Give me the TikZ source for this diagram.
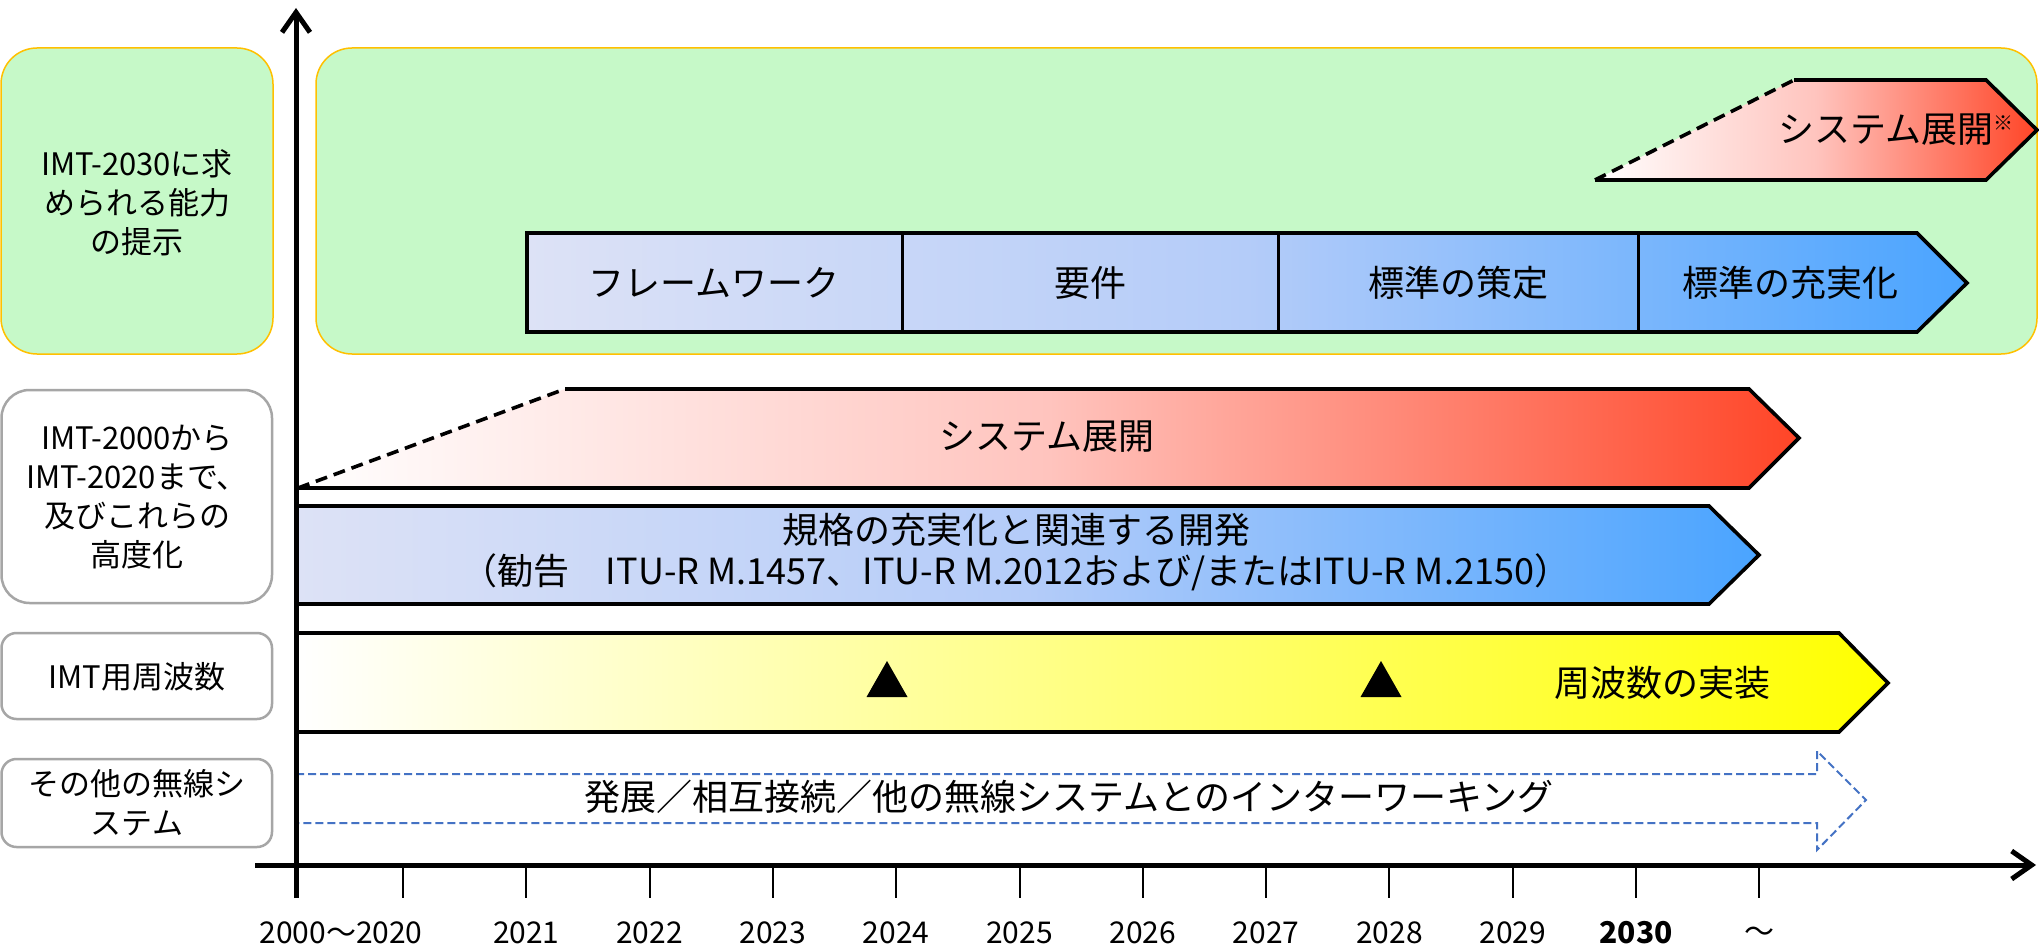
\documentclass[tikz,border=0pt]{standalone}
\usepackage{fontspec}
\setmainfont{Noto Sans CJK JP}
\usetikzlibrary{arrows.meta}
\definecolor{boxgreen}{HTML}{C6F9C8}
\definecolor{boxgold}{HTML}{FFC000}
\definecolor{labgray}{HTML}{A6A6A6}
\definecolor{redmid}{HTML}{FFC4BE}
\definecolor{redend}{HTML}{FF4527}
\definecolor{blustart}{HTML}{DDE2F6}
\definecolor{blumid}{HTML}{B4CCF9}
\definecolor{bluend}{HTML}{4AA4FF}
\definecolor{dashblue}{HTML}{4472C4}
\pgfdeclarehorizontalshading{redshade}{100bp}{color(0bp)=(white); color(25bp)=(white); color(50bp)=(redmid); color(75bp)=(redend); color(100bp)=(redend)}
\pgfdeclarehorizontalshading{blueshade}{100bp}{color(0bp)=(blustart); color(25bp)=(blustart); color(50bp)=(blumid); color(75bp)=(bluend); color(100bp)=(bluend)}
\tikzset{
  barline/.style={draw=black, line width=3.6pt, line join=miter},
  slantdash/.style={draw=black, line width=3.6pt, dash pattern=on 12pt off 7pt},
  lab/.style={font=\fontsize{31}{39}\selectfont, align=center, inner sep=0pt},
  bartext/.style={font=\fontsize{36}{41}\selectfont, align=center, inner sep=0pt},
  yeartext/.style={font=\fontsize{30}{36}\selectfont, inner sep=0pt},
  labbox/.style={draw=labgray, line width=2.5pt, fill=white},
  greenbox/.style={draw=boxgold, line width=1.5pt, fill=boxgreen},
  axisline/.style={line width=5pt, -{Straight Barb[length=20pt,width=28pt]}},
  tickline/.style={line width=2pt},
  redgrad/.style={shading=redshade},
  bluegrad/.style={shading=blueshade},
  yellowgrad/.style={left color=white, right color=yellow},
}
\begin{document}
\begin{tikzpicture}[x=1pt, y=-1pt]
\useasboundingbox (0,0) rectangle (2039,952);
\fill[white] (0,0) rectangle (2039,952);

% ---- left label boxes ----
\draw[greenbox, rounded corners=36pt] (1,48) rectangle (273,354);
\node[lab] (lab1) at (137,203) {IMT-2030に求\\められる能力\\の提示};
\draw[labbox, rounded corners=28pt] (1.5,390) rectangle (272,603);
\node[lab] (lab2) at (137,497) {IMT-2000から\\IMT-2020まで、\\及びこれらの\\高度化};
\draw[labbox, rounded corners=15pt] (1.5,633) rectangle (272,719);
\node[lab] (lab3) at (137,677) {IMT用周波数};
\draw[labbox, rounded corners=15pt] (1.5,759) rectangle (272,847);
\node[lab] (lab4) at (137,803) {その他の無線シ\\ステム};

% ---- IMT-2030 area ----
\draw[greenbox, rounded corners=36pt] (316,48) rectangle (2037,354);

% system deployment (top)
\shade[redgrad] (1595,180) -- (1794,80) -- (1986,80) -- (2037,130) -- (1986,180) -- cycle;
\draw[barline] (1794,80) -- (1986,80) -- (2037,130) -- (1986,180) -- (1595,180);
\draw[slantdash] (1595,180) -- (1794,80);
\node[bartext, anchor=east] (sys2) at (2014,130) {システム展開\raisebox{12pt}{\fontsize{20}{20}\selectfont ※}};

% framework chain
\shade[bluegrad] (527,233) -- (1917,233) -- (1967,283) -- (1917,332) -- (527,332) -- cycle;
\draw[barline] (527,233) -- (1917,233) -- (1967,283) -- (1917,332) -- (527,332) -- cycle;
\draw[line width=3pt] (902,233) -- (902,332);
\draw[line width=3pt] (1278,233) -- (1278,332);
\draw[line width=3pt] (1638,233) -- (1638,332);
\node[bartext] (fw1) at (714,283) {フレームワーク};
\node[bartext] (fw2) at (1090,283) {要件};
\node[bartext] (fw3) at (1458,283) {標準の策定};
\node[bartext] (fw4) at (1790,283) {標準の充実化};

% ---- IMT-2000/2020 rows ----
\shade[redgrad] (298,488) -- (565,389) -- (1749,389) -- (1799,438) -- (1749,488) -- cycle;
\draw[barline] (565,389) -- (1749,389) -- (1799,438) -- (1749,488) -- (298,488);
\draw[slantdash] (298,488) -- (565,389);
\node[bartext] (sys1) at (1047,437) {システム展開};

\shade[bluegrad] (296,506) -- (1709,506) -- (1759,555) -- (1709,604) -- (296,604) -- cycle;
\draw[barline] (296,506) -- (1709,506) -- (1759,555) -- (1709,604) -- (296,604) -- cycle;
\node[bartext] (std) at (1016,552) {規格の充実化と関連する開発\\（勧告　ITU-R M.1457、ITU-R M.2012および/またはITU-R M.2150）};

% ---- spectrum row ----
\shade[yellowgrad] (296,633) -- (1839,633) -- (1888,683) -- (1839,732) -- (296,732) -- cycle;
\draw[barline] (296,633) -- (1839,633) -- (1888,683) -- (1839,732) -- (296,732) -- cycle;
\fill[black] (887,661) -- (866.5,697) -- (907.5,697) -- cycle;
\fill[black] (1381,661) -- (1360.5,697) -- (1401.5,697) -- cycle;
\node[bartext] (freq) at (1662,683) {周波数の実装};

% ---- other systems row ----
\draw[dashblue, line width=2pt, dash pattern=on 8pt off 4pt]
  (296,774) -- (1817,774) -- (1817,751) -- (1866,800) -- (1817,850) -- (1817,823) -- (296,823);
\node[bartext] (inter) at (1069,797) {発展／相互接続／他の無線システムとのインターワーキング};

% ---- axes ----
\foreach \i in {0,...,11} {
  \draw[tickline] ({403+123.3*\i},865) -- ({403+123.3*\i},898);
}
\coordinate (ybot) at (296,898);
\coordinate (ytop) at (296,8);
\coordinate (xleft) at (255,865);
\coordinate (xright) at (2036,865);
\draw[axisline] (ybot) -- (ytop);
\draw[axisline] (xleft) -- (xright);

\node[yeartext] (y0) at (341,933) {2000〜2020};
\foreach \i/\y in {1/2021,2/2022,3/2023,4/2024,5/2025,6/2026,7/2027,8/2028,9/2029} {
  \node[yeartext] (y\y) at ({403+123.3*\i},933) {\y};
}
\node[yeartext, font=\fontsize{30}{36}\selectfont\bfseries] (y2030) at (1636,933) {2030};
\node[yeartext] (ytilde) at (1759,935) {〜};
\end{tikzpicture}
\end{document}
